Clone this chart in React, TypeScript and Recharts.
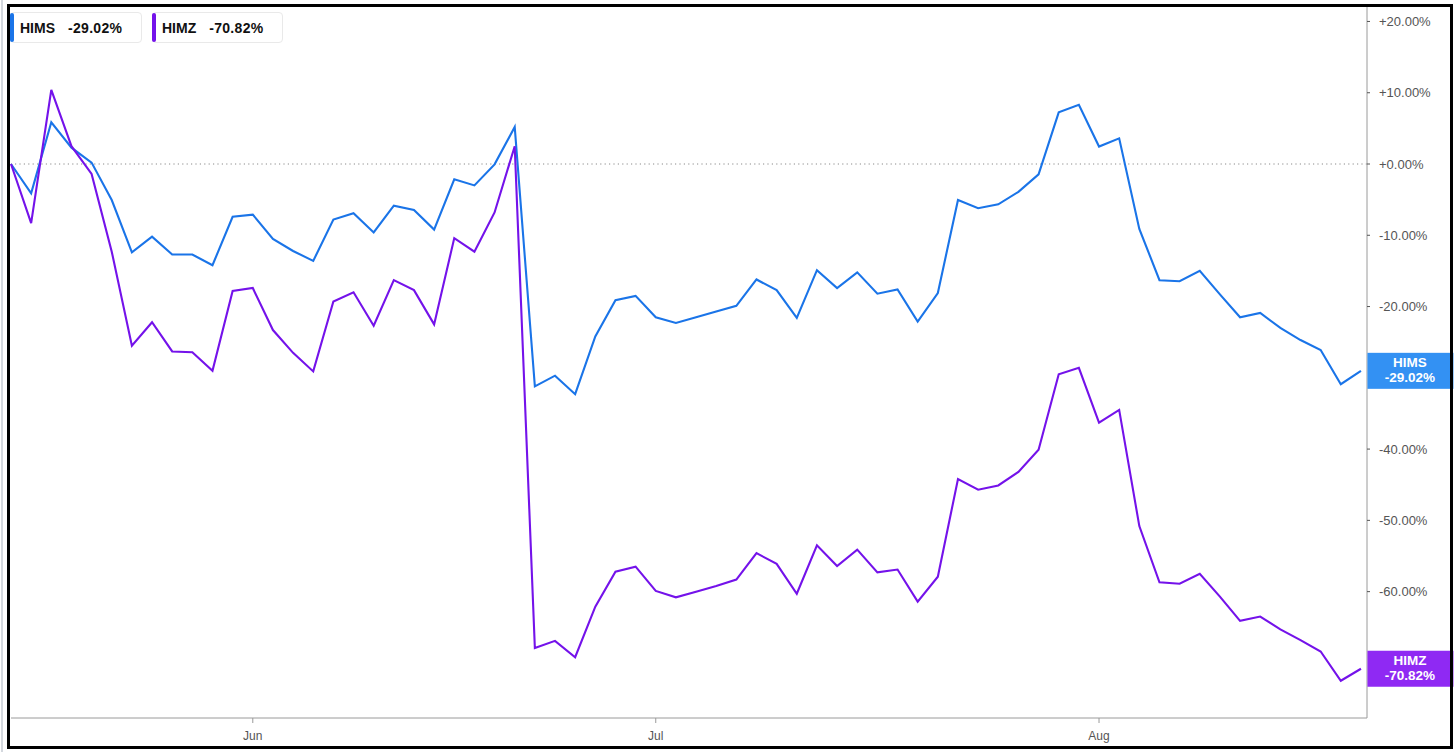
import React from "react";
import { LineChart, Line, XAxis, YAxis, ReferenceLine } from "recharts";

const dates = [
  "2025-05-14", "2025-05-15", "2025-05-16", "2025-05-19", "2025-05-20", "2025-05-21", "2025-05-22", "2025-05-23",
  "2025-05-27", "2025-05-28", "2025-05-29", "2025-05-30", "2025-06-02", "2025-06-03", "2025-06-04", "2025-06-05",
  "2025-06-06", "2025-06-09", "2025-06-10", "2025-06-11", "2025-06-12", "2025-06-13", "2025-06-16", "2025-06-17",
  "2025-06-18", "2025-06-20", "2025-06-23", "2025-06-24", "2025-06-25", "2025-06-26", "2025-06-27", "2025-06-30",
  "2025-07-01", "2025-07-02", "2025-07-03", "2025-07-07", "2025-07-08", "2025-07-09", "2025-07-10", "2025-07-11",
  "2025-07-14", "2025-07-15", "2025-07-16", "2025-07-17", "2025-07-18", "2025-07-21", "2025-07-22", "2025-07-23",
  "2025-07-24", "2025-07-25", "2025-07-28", "2025-07-29", "2025-07-30", "2025-07-31", "2025-08-01", "2025-08-04",
  "2025-08-05", "2025-08-06", "2025-08-07", "2025-08-08", "2025-08-11", "2025-08-12", "2025-08-13", "2025-08-14",
  "2025-08-15", "2025-08-18", "2025-08-19", "2025-08-20",
];

const himsValues = [
  0, -4.1, 5.85, 2.3, 0.2, -5.05, -12.4, -10.2, -12.7, -12.7,
  -14.2, -7.4, -7.1, -10.5, -12.2, -13.6, -7.8, -6.9, -9.6, -5.85,
  -6.45, -9.2, -2.15, -3.0, -0.05, 5.2, -31.2, -29.7, -32.3, -24.2,
  -19.1, -18.5, -21.5, -22.3, -21.5, -20.7, -19.9, -16.2, -17.7, -21.6,
  -14.9, -17.4, -15.2, -18.2, -17.6, -22.1, -18.1, -5.05, -6.2, -5.65,
  -3.9, -1.45, 7.25, 8.3, 2.45, 3.6, -9.1, -16.3, -16.45, -15.0,
  -18.3, -21.5, -20.9, -23.0, -24.7, -26.1, -30.9, -29.02,
];

const himzValues = [
  0, -8.3, 10.4, 2.5, -1.4, -12.3, -25.5, -22.2, -26.3, -26.4,
  -29.0, -17.8, -17.4, -23.3, -26.5, -29.1, -19.3, -18.0, -22.7, -16.3,
  -17.7, -22.5, -10.4, -12.3, -6.8, 2.5, -67.9, -66.9, -69.2, -62.1,
  -57.2, -56.5, -59.9, -60.8, -60.0, -59.2, -58.3, -54.6, -56.1, -60.3,
  -53.5, -56.4, -54.1, -57.3, -56.9, -61.4, -57.9, -44.2, -45.7, -45.1,
  -43.2, -40.1, -29.5, -28.6, -36.3, -34.5, -50.8, -58.7, -58.9, -57.5,
  -60.7, -64.1, -63.5, -65.3, -66.8, -68.4, -72.5, -70.82,
];

const seriesNames = ["HIMS", "HIMZ"];
const seriesValues = [himsValues, himzValues];
const lineColors = ["#1a74e8", "#7412ea"];
const labelColors = ["#2b8cf2", "#8a20f2"];

const monthTickDates = ["2025-06-02", "2025-07-01", "2025-08-01"];
const monthTickLabels = ["Jun", "Jul", "Aug"];
const yTicks = [20, 10, 0, -10, -20, -30, -40, -50, -60, -70];

const data = dates.map((d, i) => ({
  i,
  date: d,
  HIMS: himsValues[i],
  HIMZ: himzValues[i],
}));
const lastIndex = dates.length - 1;
const xTickIdx = monthTickDates.map((d) => dates.indexOf(d));
const lastValues = seriesValues.map((s) => s[lastIndex]);
// tick labels that sit behind the end-of-line value boxes are hidden
const visibleYTicks = yTicks.filter((t) => lastValues.every((v) => Math.abs(t - v) > 2.6));

const fmtPct = (v: number) => (v >= 0 ? "+" : "") + v.toFixed(2) + "%";

const FONT = "'Liberation Sans', Arial, Helvetica, sans-serif";

const makeEndLabel = (k: number) => (props: any) => {
  const { x, y, index } = props;
  if (index !== lastIndex || x == null || y == null) return null;
  const left = x + 6.5;
  const w = 86;
  const value = seriesValues[k][lastIndex];
  return (
    <g>
      <rect x={left} y={y - 18} width={w} height={36} fill={labelColors[k]} fillOpacity={0.96} />
      <text x={left + w / 2 - 0.5} y={y - 3.5} textAnchor="middle" fill="#fff" fontSize={13.5} fontWeight="bold" fontFamily={FONT}>
        {seriesNames[k]}
      </text>
      <text x={left + w / 2 - 0.5} y={y + 11.5} textAnchor="middle" fill="#fff" fontSize={13.5} fontWeight="bold" fontFamily={FONT}>
        {fmtPct(value)}
      </text>
    </g>
  );
};

const legendLefts = [10, 152];
const legendWidths = [132, 131];

export default function App() {
  return (
    <div style={{ position: "absolute", left: 0, top: 0, width: 1456, height: 752, background: "#fff", fontFamily: FONT, overflow: "hidden" }}>
      <LineChart
        width={1456}
        height={752}
        data={data}
        margin={{ top: 6, right: 0, bottom: 0, left: 11 }}
        style={{ fontFamily: FONT }}
      >
        <XAxis
          dataKey="i"
          type="number"
          domain={[0, lastIndex + 0.3]}
          ticks={xTickIdx}
          tickFormatter={(v: number) => monthTickLabels[xTickIdx.indexOf(v)] ?? ""}
          axisLine={{ stroke: "#9a9a9a" }}
          tickLine={{ stroke: "#9a9a9a" }}
          tickSize={5}
          tickMargin={8}
          tick={{ fill: "#555", fontSize: 12 }}
          height={34}
        />
        <YAxis
          orientation="right"
          width={89}
          domain={[-77.73, 22.17]}
          ticks={visibleYTicks}
          tickFormatter={fmtPct}
          axisLine={{ stroke: "#9a9a9a" }}
          tickLine={{ stroke: "#555" }}
          tickSize={3}
          tickMargin={9}
          tick={{ fill: "#555", fontSize: 13 }}
        />
        <ReferenceLine y={0} stroke="#8a8a8a" strokeDasharray="1.2 3.2" />
        {seriesNames.map((name, k) => (
          <Line
            key={name}
            dataKey={name}
            type="linear"
            stroke={lineColors[k]}
            strokeWidth={2.1}
            dot={false}
            activeDot={false}
            isAnimationActive={false}
            label={makeEndLabel(k)}
          />
        ))}
      </LineChart>

      {seriesNames.map((name, k) => (
        <div
          key={name}
          style={{
            position: "absolute",
            left: legendLefts[k],
            top: 12,
            width: legendWidths[k],
            height: 31,
            boxSizing: "border-box",
            border: "1px solid #e9e9e9",
            borderRadius: 4,
            background: "#fff",
            display: "flex",
            alignItems: "center",
          }}
        >
          <div style={{ position: "absolute", left: -1, top: 0, bottom: 0, width: 4, borderRadius: 2, background: lineColors[k] }} />
          <span style={{ marginLeft: 9, fontSize: 14, fontWeight: "bold", color: "#111" }}>{name}</span>
          <span style={{ marginLeft: 13, fontSize: 14, fontWeight: "bold", color: "#111", letterSpacing: 0.3 }}>
            {fmtPct(seriesValues[k][lastIndex])}
          </span>
        </div>
      ))}

      <div style={{ position: "absolute", left: 1, top: 0, width: 2, height: 752, background: "#d4d8de" }} />
      <div
        style={{
          position: "absolute",
          left: 7,
          top: 4,
          width: 1446,
          height: 745,
          boxSizing: "border-box",
          border: "3px solid #000",
          pointerEvents: "none",
        }}
      />
    </div>
  );
}
